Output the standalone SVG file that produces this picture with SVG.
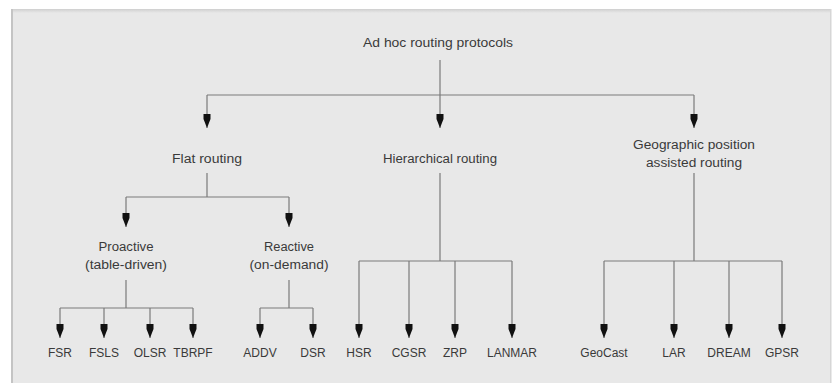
<svg xmlns="http://www.w3.org/2000/svg" width="833" height="383" viewBox="0 0 833 383">
<defs>
<marker id="arr" viewBox="0 0 14 8" refX="14" refY="4" markerWidth="14" markerHeight="8" markerUnits="userSpaceOnUse" orient="auto">
<path d="M0,0.5 L5,0.5 L14,4 L5,7.5 L0,7.5 Z" fill="#111"/>
</marker>
<linearGradient id="topsh" x1="0" y1="0" x2="0" y2="1">
<stop offset="0" stop-color="#cfcfcf"/>
<stop offset="1" stop-color="#e8e8e8"/>
</linearGradient>
</defs>
<style>
text{font-family:"Liberation Sans","DejaVu Sans",sans-serif;font-size:12px;fill:#3a3a3a;text-anchor:middle}
.c{fill:none;stroke:#7a7a7a;stroke-width:1.2}
.a{marker-end:url(#arr)}
</style>
<rect width="833" height="383" fill="#ffffff"/>
<rect x="12" y="9" width="819" height="374" fill="#e8e8e8"/>
<rect x="12" y="9" width="819" height="4" fill="url(#topsh)"/>
<rect x="11" y="9" width="2" height="374" fill="#c4c4c4"/>
<rect x="830" y="9" width="1.5" height="374" fill="#d6d6d6"/>

<g id="connectors">
<path class="c" d="M440,60 V95"/>
<path class="c" d="M207,95 H694"/>
<path class="c a" d="M207,95 V128"/>
<path class="c a" d="M440,95 V128"/>
<path class="c a" d="M694,95 V128"/>

<path class="c" d="M207,173 V197 M126,197 H289"/>
<path class="c a" d="M126,197 V227"/>
<path class="c a" d="M289,197 V227"/>

<path class="c" d="M126,280 V308 M60,308 H193"/>
<path class="c a" d="M60,308 V338"/>
<path class="c a" d="M104,308 V338"/>
<path class="c a" d="M150,308 V338"/>
<path class="c a" d="M193,308 V338"/>

<path class="c" d="M289,280 V308 M260,308 H313"/>
<path class="c a" d="M260,308 V338"/>
<path class="c a" d="M313,308 V338"/>

<path class="c" d="M440,173 V261 M359,261 H512"/>
<path class="c a" d="M359,261 V338"/>
<path class="c a" d="M409,261 V338"/>
<path class="c a" d="M455,261 V338"/>
<path class="c a" d="M512,261 V338"/>

<path class="c" d="M694,173 V261 M604,261 H782"/>
<path class="c a" d="M604,261 V338"/>
<path class="c a" d="M674,261 V338"/>
<path class="c a" d="M729,261 V338"/>
<path class="c a" d="M782,261 V338"/>
</g>

<g id="root"><text x="438" y="47" textLength="150" lengthAdjust="spacingAndGlyphs">Ad hoc routing protocols</text></g>
<g id="flat"><text x="207" y="163" textLength="70" lengthAdjust="spacingAndGlyphs">Flat routing</text></g>
<g id="hier"><text x="440" y="163" textLength="114" lengthAdjust="spacingAndGlyphs">Hierarchical routing</text></g>
<g id="geo"><text x="694" y="149" textLength="122" lengthAdjust="spacingAndGlyphs">Geographic position</text><text x="694" y="167" textLength="96" lengthAdjust="spacingAndGlyphs">assisted routing</text></g>
<g id="proactive"><text x="126" y="251" textLength="55" lengthAdjust="spacingAndGlyphs">Proactive</text><text x="126" y="269" textLength="82" lengthAdjust="spacingAndGlyphs">(table-driven)</text></g>
<g id="reactive"><text x="289" y="251" textLength="50" lengthAdjust="spacingAndGlyphs">Reactive</text><text x="289" y="269" textLength="79" lengthAdjust="spacingAndGlyphs">(on-demand)</text></g>

<g id="fsr"><text x="60" y="357">FSR</text></g>
<g id="fsls"><text x="104" y="357">FSLS</text></g>
<g id="olsr"><text x="150" y="357">OLSR</text></g>
<g id="tbrpf"><text x="193" y="357">TBRPF</text></g>
<g id="addv"><text x="260" y="357">ADDV</text></g>
<g id="dsr"><text x="313" y="357">DSR</text></g>
<g id="hsr"><text x="359" y="357">HSR</text></g>
<g id="cgsr"><text x="409" y="357">CGSR</text></g>
<g id="zrp"><text x="455" y="357">ZRP</text></g>
<g id="lanmar"><text x="512" y="357">LANMAR</text></g>
<g id="geocast"><text x="604" y="357">GeoCast</text></g>
<g id="lar"><text x="674" y="357">LAR</text></g>
<g id="dream"><text x="729" y="357">DREAM</text></g>
<g id="gpsr"><text x="782" y="357">GPSR</text></g>
</svg>
